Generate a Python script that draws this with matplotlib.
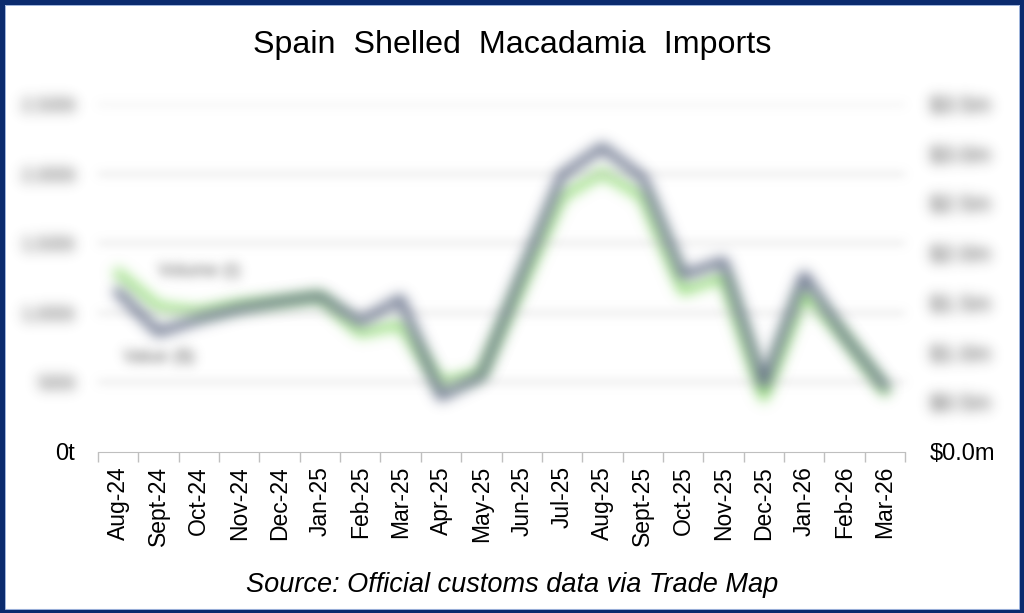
import numpy as np
import matplotlib
matplotlib.use("Agg")
import matplotlib.pyplot as plt
from matplotlib.patches import Rectangle

months = ["Aug-24", "Sept-24", "Oct-24", "Nov-24", "Dec-24", "Jan-25", "Feb-25",
          "Mar-25", "Apr-25", "May-25", "Jun-25", "Jul-25", "Aug-25", "Sept-25",
          "Oct-25", "Nov-25", "Dec-25", "Jan-26", "Feb-26", "Mar-26"]
volume_t = [1150, 860, 955, 1030, 1080, 1120, 935, 1100, 400, 545, 1280,
            1990, 2190, 1970, 1270, 1370, 485, 1270, 835, 470]
value_musd = [1.80, 1.46, 1.41, 1.48, 1.51, 1.56, 1.20, 1.28, 0.69, 0.79, 1.68,
              2.57, 2.81, 2.57, 1.62, 1.76, 0.55, 1.60, 1.16, 0.62]
left_ticks = [0, 500, 1000, 1500, 2000, 2500]
right_ticks = [0.0, 0.5, 1.0, 1.5, 2.0, 2.5, 3.0, 3.5]

GREY = "#5a6580"
GREEN = "#8fdc72"
NAVY = "#0b2b6e"


def blur(sigma):
    # gaussian blur used as an agg_filter (premultiplied alpha)
    def f(im, dpi):
        pad = int(3 * sigma) + 1
        a = im[..., 3:4]
        src = np.concatenate([im[..., :3] * a, a], axis=2)
        src = np.pad(src, [(pad, pad), (pad, pad), (0, 0)])
        k = np.exp(-0.5 * (np.arange(-pad, pad + 1) / sigma) ** 2)
        k /= k.sum()
        tmp = np.zeros_like(src)
        for i, w in enumerate(k):
            tmp += w * np.roll(src, i - pad, axis=0)
        out = np.zeros_like(src)
        for i, w in enumerate(k):
            out += w * np.roll(tmp, i - pad, axis=1)
        alpha = out[..., 3:4]
        rgb = out[..., :3] / np.maximum(alpha, 1e-6)
        res = np.clip(np.concatenate([rgb, alpha], axis=2), 0, 1)
        return res, -pad, -pad
    return f


plt.rcParams['font.family'] = ['Liberation Sans', 'DejaVu Sans']

fig = plt.figure(figsize=(10.24, 6.13), dpi=100)
fig.patch.set_facecolor("white")
ax = fig.add_axes([98 / 1024, 1 - 452 / 613, (905 - 98) / 1024, (452 - 104) / 613])
ax2 = ax.twinx()

x = np.arange(len(months))

l2, = ax2.plot(x, value_musd, color=GREEN, lw=6, solid_joinstyle="round")
l2.set_agg_filter(blur(6.5))
l1, = ax.plot(x, volume_t, color=GREY, lw=6, solid_joinstyle="round")
l1.set_agg_filter(blur(6.5))
ax.set_zorder(2)
ax.patch.set_visible(False)
ax2.set_zorder(1)

ax.set_xlim(-0.5, len(months) - 0.5)
ax.set_ylim(0, 2500)
ax2.set_ylim(0, 3.5)

# x axis
ax.set_xticks(x)
ax.set_xticklabels(months, rotation=90, fontsize=16.5)
ax.set_xticks(np.arange(len(months) + 1) - 0.5, minor=True)
ax.tick_params(axis="x", which="major", length=0, pad=10)
ax.tick_params(axis="x", which="minor", length=7, color="#bfbfbf", width=1)

for a in (ax, ax2):
    for s in a.spines.values():
        s.set_visible(False)
ax.spines["bottom"].set_visible(True)
ax.spines["bottom"].set_color("#bfbfbf")

# left axis
ax.set_yticks(left_ticks)
ax.set_yticklabels(["0t"] + [f"{v:,}t" for v in left_ticks[1:]], fontsize=17)
ax.tick_params(axis="y", length=0, pad=16.5)
ax.grid(axis="y", color="#cfcfcf", lw=1.5)
for i, t in enumerate(ax.yaxis.get_major_ticks()):
    if i > 0:
        t.label1.set_color("#3a3a3a")
        t.label1.set_fontsize(14)
        t.label1.set_agg_filter(blur(6.5))
        t.gridline.set_agg_filter(blur(4.5))
    else:
        t.gridline.set_visible(False)

# right axis
ax2.set_yticks(right_ticks)
ax2.set_yticklabels([f"${v:.1f}m" for v in right_ticks], fontsize=17)
ax2.tick_params(axis="y", length=0, pad=18)
for i, t in enumerate(ax2.yaxis.get_major_ticks()):
    if i > 0:
        t.label2.set_color("#3a3a3a")
        t.label2.set_fontsize(16)
        t.label2.set_agg_filter(blur(6.5))

# series labels
t1 = ax.text(2.0, 1300, "Volume (t)", ha="center", va="center", fontsize=13, color="#555555")
t1.set_agg_filter(blur(5.5))
t2 = ax.text(1.0, 680, "Value ($)", ha="center", va="center", fontsize=13, color="#555555")
t2.set_agg_filter(blur(5.5))

fig.text(0.5, 1 - 45 / 613, "Spain  Shelled  Macadamia  Imports", ha="center", va="center",
         fontsize=23.2, color="black")
fig.text(0.5, 1 - 585 / 613, "Source: Official customs data via Trade Map", ha="center",
         va="center", fontsize=19.5, style="italic")

# frame
fig.patches.append(Rectangle((0, 0), 1, 1, transform=fig.transFigure, fill=False,
                             edgecolor=NAVY, lw=6.5, zorder=10))
fig.patches.append(Rectangle((4.5 / 1024, 4.5 / 613), 1 - 9.5 / 1024, 1 - 9 / 613,
                             transform=fig.transFigure, fill=False,
                             edgecolor="#9db3dc", lw=0.7, zorder=10))

fig.savefig("out.png", dpi=100)
